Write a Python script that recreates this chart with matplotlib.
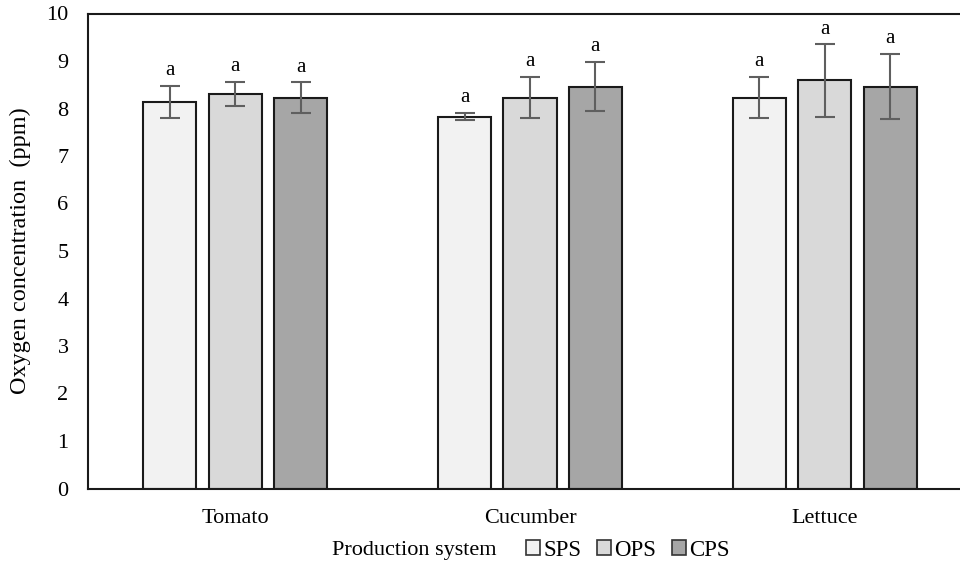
import matplotlib
matplotlib.use("Agg")
import matplotlib.pyplot as plt
import numpy as np
from matplotlib.patches import Patch

crops = ["Tomato", "Cucumber", "Lettuce"]
systems = ["SPS", "OPS", "CPS"]
colors = ["#f2f2f2", "#d9d9d9", "#a6a6a6"]
means = {
    "SPS": [8.14, 7.83, 8.23],
    "OPS": [8.31, 8.23, 8.59],
    "CPS": [8.23, 8.46, 8.46],
}
errors = {
    "SPS": [0.33, 0.08, 0.43],
    "OPS": [0.25, 0.43, 0.76],
    "CPS": [0.32, 0.52, 0.69],
}
letters = {
    "SPS": ["a", "a", "a"],
    "OPS": ["a", "a", "a"],
    "CPS": ["a", "a", "a"],
}

plt.rcParams["font.family"] = ["Liberation Serif", "DejaVu Serif"]

fig = plt.figure(figsize=(9.6, 5.66), dpi=100)
ax = fig.add_axes([88 / 960, 1 - 488.5 / 566, (972 - 88) / 960, 475 / 566])

x = np.arange(len(crops))
width = 0.18
step = 0.222
for i, s in enumerate(systems):
    pos = x + (i - 1) * step
    ax.bar(pos, means[s], width, color=colors[i], edgecolor="#1a1a1a",
           linewidth=1.5, label=s, zorder=2)
    ax.errorbar(pos, means[s], yerr=errors[s], fmt="none", ecolor="#5f5f5f",
                elinewidth=1.5, capsize=7, capthick=1.5, zorder=3)
    for p, m, e, t in zip(pos, means[s], errors[s], letters[s]):
        ax.text(p, m + e + 0.12, t, ha="center", va="bottom", fontsize=15)

ax.set_xlim(-0.5, 2.5)
ax.set_ylim(0, 10)
ax.set_yticks(range(0, 11))
ax.set_xticks(x)
ax.set_xticklabels(crops)
ax.tick_params(axis="both", length=0, labelsize=16)
ax.tick_params(axis="x", pad=15)
ax.tick_params(axis="y", pad=14)
for sp in ax.spines.values():
    sp.set_linewidth(1.5)
    sp.set_color("#1a1a1a")
ax.set_ylabel("Oxygen concentration  (ppm)", fontsize=17.5, labelpad=11)

fig.text(332 / 960, 1 - 550 / 566, "Production system", fontsize=16,
         ha="left", va="center")
handles = [Patch(facecolor=colors[i], edgecolor="#333333", linewidth=1.2,
                 label=s) for i, s in enumerate(systems)]
fig.legend(handles=handles, loc="center left", ncol=3, frameon=False,
           bbox_to_anchor=(526 / 960, 1 - 550 / 566), fontsize=16.5,
           handlelength=0.6, handleheight=0.6, handletextpad=0.15,
           columnspacing=0.7, borderaxespad=0, borderpad=0)

fig.savefig("out.png", dpi=100)
